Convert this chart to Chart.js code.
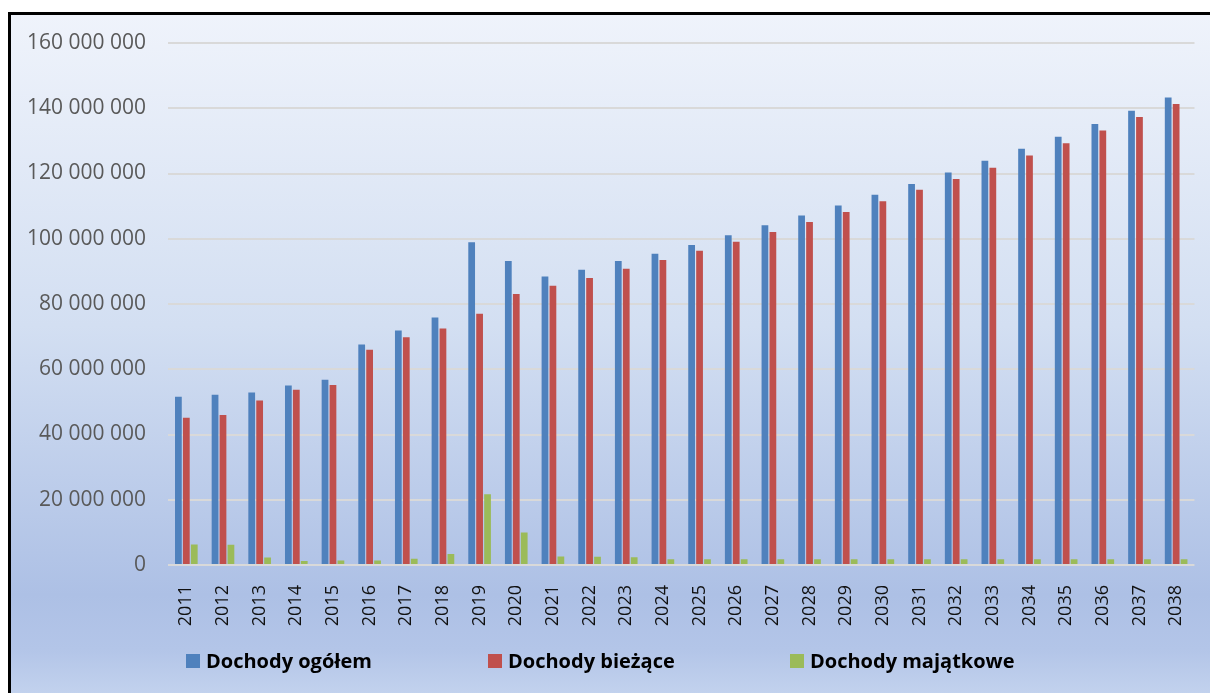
<!DOCTYPE html>
<html>
<head>
<meta charset="utf-8">
<script src="https://cdn.jsdelivr.net/npm/chart.js@4.4.0/dist/chart.umd.min.js"></script>
<style>
    html, body {
        margin: 0;
        padding: 0;
        width: 1210px;
        height: 693px;
        overflow: hidden;
        background: #ffffff;
    }
    #frame {
        position: absolute;
        left: 8px;
        top: 12px;
        width: 1210px;
        height: 690px;
        border-left: 3px solid #000;
        border-top: 3px solid #000;
        background: linear-gradient(to bottom, #eff3fb 0%, #d3dff2 45%, #adc0e5 84%, #b3c5e8 92%, #c6d5ef 100%);
    }
    #chart-wrap {
        position: absolute;
        left: 0;
        top: 0;
        width: 1210px;
        height: 693px;
    }
    #legend {
        position: absolute;
        top: 647px;
        left: 186px;
        display: flex;
        font-family: "Open Sans", sans-serif;
        font-weight: bold;
        font-size: 20px;
        color: #000;
    }
    .legend-item {
        width: 302px;
        display: flex;
        align-items: center;
    }
    .legend-box {
        width: 14px;
        height: 14px;
        margin-right: 6px;
    }
</style>
</head>
<body>
<div id="frame"></div>
<div id="chart-wrap"><canvas id="chart" width="1210" height="693"></canvas></div>
<div id="legend"></div>

<script>
// Years on the x axis
const years = ['2011', '2012', '2013', '2014', '2015', '2016', '2017', '2018', '2019', '2020',
    '2021', '2022', '2023', '2024', '2025', '2026', '2027', '2028', '2029', '2030',
    '2031', '2032', '2033', '2034', '2035', '2036', '2037', '2038'];

// Values (PLN)
const dochodyOgolem = [51600000, 52200000, 52900000, 55000000, 56800000, 67600000, 71900000, 75900000, 98900000, 93200000,
    88400000, 90500000, 93200000, 95400000, 98100000, 101100000, 104100000, 107100000, 110200000, 113500000,
    116800000, 120300000, 123900000, 127600000, 131300000, 135200000, 139200000, 143300000];

const dochodyBiezace = [45100000, 46000000, 50400000, 53700000, 55200000, 66000000, 69800000, 72500000, 77000000, 83100000,
    85600000, 88000000, 90800000, 93500000, 96300000, 99100000, 102100000, 105100000, 108200000, 111500000,
    115000000, 118300000, 121800000, 125500000, 129300000, 133200000, 137300000, 141300000];

const dochodyMajatkowe = [6300000, 6200000, 2300000, 1200000, 1400000, 1400000, 1900000, 3400000, 21700000, 10000000,
    2600000, 2500000, 2400000, 1800000, 1800000, 1800000, 1800000, 1800000, 1800000, 1800000,
    1800000, 1800000, 1800000, 1800000, 1800000, 1800000, 1800000, 1800000];

const seriesNames = ['Dochody ogółem', 'Dochody bieżące', 'Dochody majątkowe'];
const seriesColors = ['#4f81bd', '#c0504d', '#9bbb59'];

// Format numbers with space as thousands separator
function formatNumber(num) {
    return num.toString().replace(/\B(?=(\d{3})+(?!\d))/g, ' ');
}

function makeDataset(i, data) {
    return {
        label: seriesNames[i],
        data: data,
        backgroundColor: seriesColors[i],
        borderWidth: 0,
        barPercentage: 0.85,
        categoryPercentage: 0.65
    };
}

const ctx = document.getElementById('chart').getContext('2d');
const chart = new Chart(ctx, {
    type: 'bar',
    data: {
        labels: years,
        datasets: [
            makeDataset(0, dochodyOgolem),
            makeDataset(1, dochodyBiezace),
            makeDataset(2, dochodyMajatkowe)
        ]
    },
    options: {
        responsive: false,
        animation: false,
        layout: {
            padding: { left: 18, top: 43, right: 15, bottom: 58 }
        },
        plugins: {
            legend: { display: false },
            tooltip: { enabled: false }
        },
        scales: {
            x: {
                grid: { display: false },
                border: { display: false },
                ticks: {
                    autoSkip: false,
                    minRotation: 90,
                    maxRotation: 90,
                    padding: 12,
                    color: '#111111',
                    font: { family: 'Open Sans', size: 18 }
                },
                afterFit: (scale) => { scale.height = 70; }
            },
            y: {
                min: 0,
                max: 160000000,
                border: { display: false },
                grid: {
                    color: '#d9d9d9',
                    lineWidth: 2,
                    drawTicks: false
                },
                ticks: {
                    stepSize: 20000000,
                    padding: 22,
                    color: '#595959',
                    font: { family: 'Open Sans', size: 21 },
                    callback: (value) => formatNumber(value)
                },
                afterFit: (scale) => { scale.width = 150; }
            }
        }
    }
});

// Build the legend below the chart
const legend = document.getElementById('legend');
seriesNames.forEach((name, i) => {
    const item = document.createElement('div');
    item.className = 'legend-item';
    const box = document.createElement('span');
    box.className = 'legend-box';
    box.style.background = seriesColors[i];
    const text = document.createElement('span');
    text.textContent = name;
    item.appendChild(box);
    item.appendChild(text);
    legend.appendChild(item);
});
</script>
</body>
</html>
